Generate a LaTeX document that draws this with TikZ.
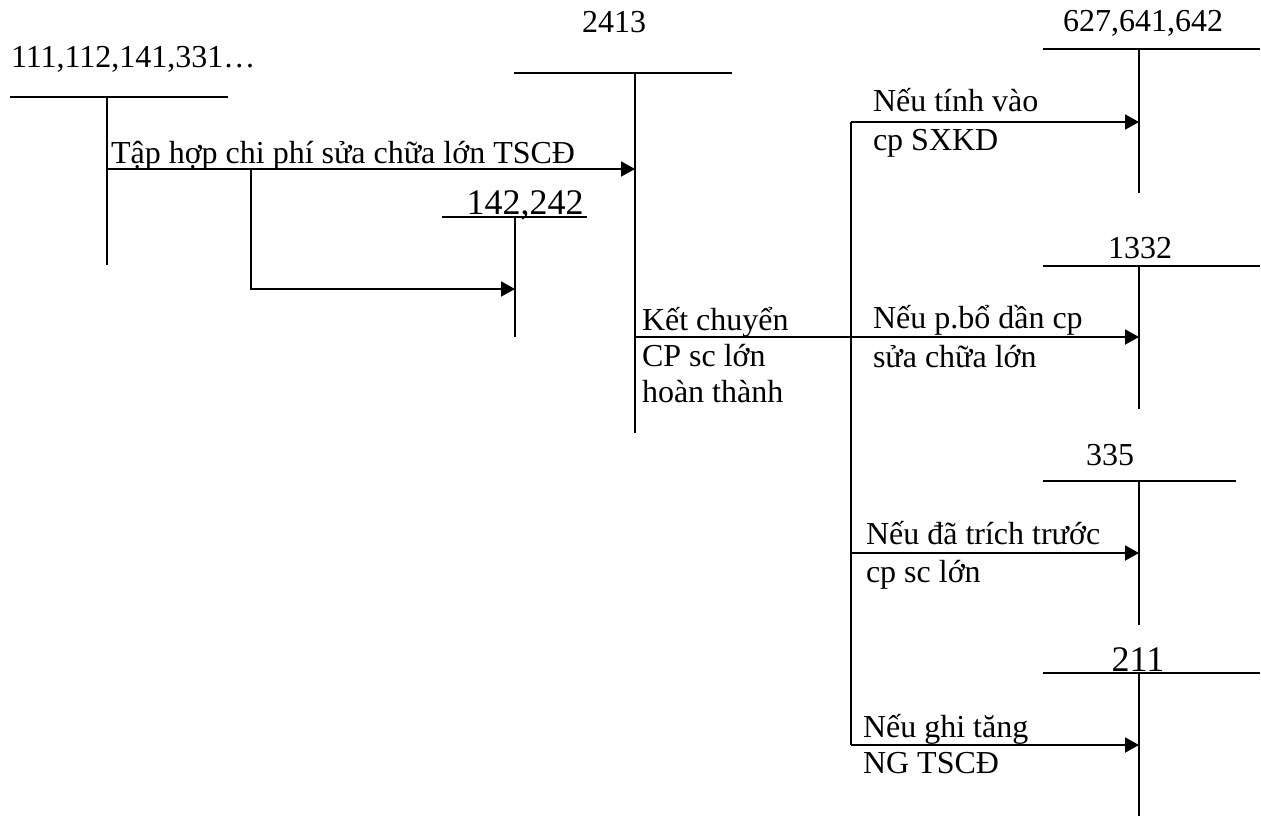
\documentclass[tikz,border=0pt]{standalone}
\usepackage{fontspec}
\setmainfont{Liberation Serif}
\usetikzlibrary{arrows.meta}
\begin{document}
\begin{tikzpicture}[x=1pt,y=-1pt,line width=2pt,
  lbl/.style={inner sep=0pt,anchor=base west,font=\fontsize{32}{38}\selectfont},
  acct/.style={inner sep=0pt,anchor=base,font=\fontsize{32}{38}\selectfont},
  bigacct/.style={inner sep=0pt,anchor=base,font=\fontsize{36}{42}\selectfont},
  arr/.style={-{Triangle[length=14pt,width=15pt]}}]
\useasboundingbox (0,0) rectangle (1261,816);

% account titles
\node[lbl]  (t111)  at (10,67)   {111,112,141,331…};
\node[acct] (t2413) at (614,33)  {2413};
\node[bigacct] (t142) at (525,214) {142,242};
\node[acct] (t627)  at (1143,32) {627,641,642};
\node[acct] (t1332) at (1140,258) {1332};
\node[acct] (t335)  at (1110,465) {335};
\node[bigacct] (t211) at (1138,671) {211};

% T-accounts
\coordinate (a111) at (107,97);
\draw (10,97) -- (228,97);  \draw (a111) -- (107,265);
\coordinate (a2413) at (635,73);
\draw (514,73) -- (732,73); \draw (a2413) -- (635,433);
\coordinate (a142) at (515,217);
\draw (442,217) -- (587,217); \draw (a142) -- (515,337);
\coordinate (a627) at (1139,49);
\draw (1043,49) -- (1260,49); \draw (a627) -- (1139,193);
\coordinate (a1332) at (1139,266);
\draw (1043,266) -- (1260,266); \draw (a1332) -- (1139,409);
\coordinate (a335) at (1139,481);
\draw (1043,481) -- (1236,481); \draw (a335) -- (1139,625);
\coordinate (a211) at (1139,673);
\draw (1043,673) -- (1260,673); \draw (a211) -- (1139,816);

% connector points
\coordinate (s1) at (107,169);
\coordinate (e1) at (635,169);
\coordinate (b1) at (251,169);
\coordinate (b2) at (251,289);
\coordinate (e2) at (515,289);
\coordinate (k1) at (635,337);
\coordinate (k2) at (851,337);
\coordinate (v1) at (851,122);
\coordinate (v2) at (851,553);
\coordinate (v3) at (851,745);
\coordinate (r1) at (1139,122);
\coordinate (r2) at (1139,337);
\coordinate (r3) at (1139,553);
\coordinate (r4) at (1139,745);

\draw[arr] (s1) -- (e1);
\draw[arr] (b1) -- (b2) -- (e2);
\draw (k1) -- (k2);
\draw (v1) -- (v3);
\draw[arr] (v1) -- (r1);
\draw[arr] (k2) -- (r2);
\draw[arr] (v2) -- (r3);
\draw[arr] (v3) -- (r4);

% labels
\node[lbl] (l1) at (110,163) {Tập hợp chi phí sửa chữa lớn TSCĐ};
\node[lbl] (k1a) at (641,330) {Kết chuyển};
\node[lbl] (k1b) at (641,366) {CP sc lớn};
\node[lbl] (k1c) at (641,402) {hoàn thành};
\node[lbl] (n1a) at (872,111) {Nếu tính vào};
\node[lbl] (n1b) at (872,150) {cp SXKD};
\node[lbl] (n2a) at (872,328) {Nếu p.bổ dần cp};
\node[lbl] (n2b) at (872,367) {sửa chữa lớn};
\node[lbl] (n3a) at (865,544) {Nếu đã trích trước};
\node[lbl] (n3b) at (865,582) {cp sc lớn};
\node[lbl] (n4a) at (862,737) {Nếu ghi tăng};
\node[lbl] (n4b) at (862,773) {NG TSCĐ};
\end{tikzpicture}
\end{document}
